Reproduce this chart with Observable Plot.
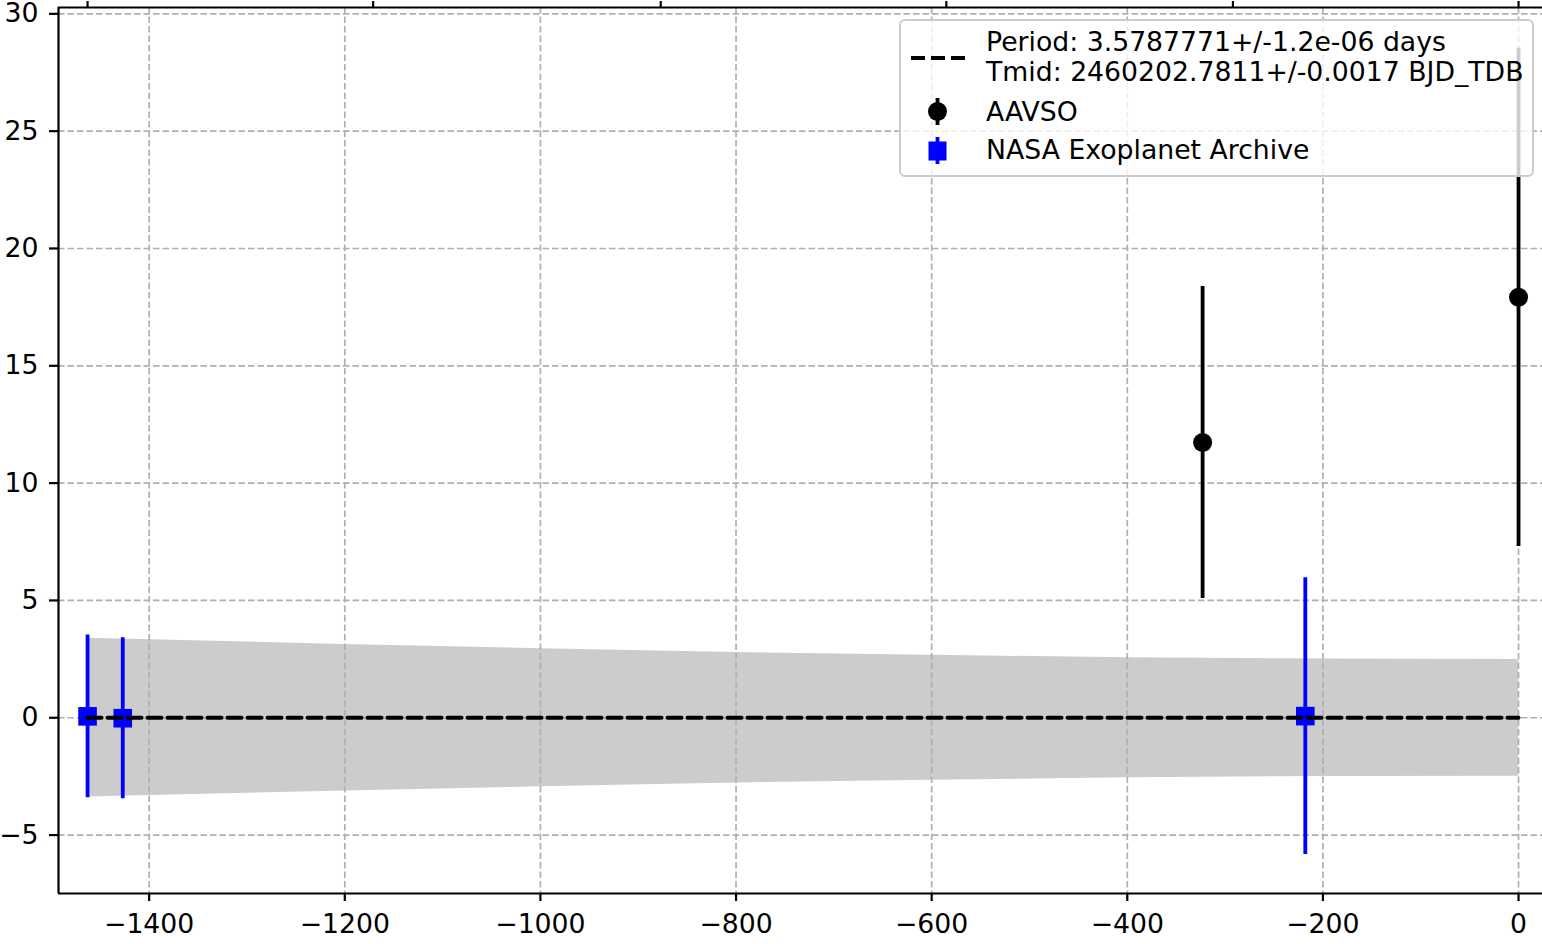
<!DOCTYPE html>
<html>
<head>
<meta charset="utf-8">
<script src="https://cdn.jsdelivr.net/npm/d3@7"></script>
<script src="https://cdn.jsdelivr.net/npm/@observablehq/plot@0.6"></script>
<style>
  html, body { margin: 0; padding: 0; background: white; overflow: hidden; }
  #wrap { position: relative; width: 1542px; height: 944px; }
  #legend { position: absolute; left: 0; top: 0; pointer-events: none; }
</style>
</head>
<body>
<div id="wrap"></div>
<script>
// ---- data ----
const nasaEpoch = [-1463, -1427, -218];
const nasaOC    = [0.06, -0.02, 0.07];
const nasaErr   = [3.47, 3.43, 5.90];

const aavsoEpoch = [-323, 0];
const aavsoOC    = [11.73, 17.92];
const aavsoErr   = [6.65, 10.62];

const bandEpoch = [-1463, -1200, -1000, -800, -600, -400, -200, 0];
const bandUpper = [3.39, 3.12, 2.94, 2.78, 2.66, 2.56, 2.50, 2.48];
const bandLower = [-3.38, -3.12, -2.94, -2.78, -2.66, -2.56, -2.50, -2.49];

const fitEpoch = [-1463, 0];
const fitOC    = [0, 0];

const xTicks = [-1400, -1200, -1000, -800, -600, -400, -200, 0];
const yTicks = [-5, 0, 5, 10, 15, 20, 25, 30];
const topTicks = [-1463, -1171, -877, -585, -292, 0];

const legendLines = [
  "Period: 3.5787771+/-1.2e-06 days",
  "Tmid: 2460202.7811+/-0.0017 BJD_TDB",
  "AAVSO",
  "NASA Exoplanet Archive"
];

// ---- tables ----
const nasa = nasaEpoch.map((e, i) => ({epoch: e, oc: nasaOC[i], err: nasaErr[i]}));
const aavso = aavsoEpoch.map((e, i) => ({epoch: e, oc: aavsoOC[i], err: aavsoErr[i]}));
const band = bandEpoch.map((e, i) => ({epoch: e, lo: bandLower[i], hi: bandUpper[i]}));
const fit = fitEpoch.map((e, i) => ({epoch: e, oc: fitOC[i]}));

const fmt = d => d < 0 ? "\u2212" + Math.abs(d) : String(d);
const xDomain = [-1492.7, 24.5];
const yDomain = [-7.49, 30.27];
const FS = 26.7;

const chart = Plot.plot({
  width: 1542,
  height: 944,
  marginLeft: 58,
  marginRight: 0,
  marginTop: 7,
  marginBottom: 51,
  x: {domain: xDomain, label: null},
  y: {domain: yDomain, label: null},
  style: {fontFamily: "DejaVu Sans", fontSize: FS + "px", color: "black", background: "white", overflow: "visible"},
  marks: [
    Plot.areaY(band, {x: "epoch", y1: "lo", y2: "hi", fill: "#cccccc"}),
    Plot.gridX(xTicks, {stroke: "#b0b0b0", strokeOpacity: 1, strokeWidth: 1.7, strokeDasharray: "6.5,3"}),
    Plot.gridY(yTicks, {stroke: "#b0b0b0", strokeOpacity: 1, strokeWidth: 1.7, strokeDasharray: "6.5,3"}),
    Plot.ruleX(nasa, {x: "epoch", y1: d => d.oc - d.err, y2: d => d.oc + d.err, stroke: "blue", strokeWidth: 3.8}),
    Plot.dot(nasa, {x: "epoch", y: "oc", symbol: "square", r: 10.5, fill: "blue", stroke: "none"}),
    Plot.ruleX(aavso, {x: "epoch", y1: d => d.oc - d.err, y2: d => d.oc + d.err, stroke: "black", strokeWidth: 3.8}),
    Plot.dot(aavso, {x: "epoch", y: "oc", r: 9.5, fill: "black", stroke: "none"}),
    Plot.line(fit, {x: "epoch", y: "oc", stroke: "black", strokeWidth: 4, strokeDasharray: "14,6"}),
    Plot.ruleX([xDomain[0]], {stroke: "black", strokeWidth: 2.2}),
    Plot.ruleY([yDomain[0]], {stroke: "black", strokeWidth: 2.2}),
    Plot.ruleY([yDomain[1]], {stroke: "black", strokeWidth: 2.2}),
    Plot.axisX({ticks: xTicks, tickFormat: fmt, tickSize: 8, tickPadding: 13, stroke: "black", strokeWidth: 2.2, fill: "black", fontSize: FS}),
    Plot.axisY({ticks: yTicks, tickFormat: fmt, tickSize: 9, tickPadding: 11, stroke: "black", strokeWidth: 2.2, fill: "black", fontSize: FS}),
    Plot.axisX({anchor: "top", ticks: topTicks, tickSize: 7, tickFormat: () => "", stroke: "black", strokeWidth: 2.2})
  ]
});
document.getElementById("wrap").appendChild(chart);

// ---- legend overlay ----
const lg = d3.select("#wrap").append("svg")
  .attr("id", "legend")
  .attr("width", 1542).attr("height", 944)
  .style("font-family", "DejaVu Sans").style("font-size", FS + "px");

lg.append("rect").attr("x", 900).attr("y", 20).attr("width", 633).attr("height", 156)
  .attr("rx", 5).attr("fill", "white").attr("fill-opacity", 0.8)
  .attr("stroke", "#cccccc").attr("stroke-width", 2);
lg.append("line").attr("x1", 911).attr("x2", 965).attr("y1", 58).attr("y2", 58)
  .attr("stroke", "black").attr("stroke-width", 4).attr("stroke-dasharray", "14,6");
lg.append("line").attr("x1", 937.5).attr("x2", 937.5).attr("y1", 98).attr("y2", 125)
  .attr("stroke", "black").attr("stroke-width", 3.8);
lg.append("circle").attr("cx", 937.5).attr("cy", 111.5).attr("r", 9.5).attr("fill", "black");
lg.append("line").attr("x1", 937.5).attr("x2", 937.5).attr("y1", 137).attr("y2", 164)
  .attr("stroke", "blue").attr("stroke-width", 3.8);
lg.append("rect").attr("x", 928.5).attr("y", 141.5).attr("width", 18).attr("height", 19).attr("fill", "blue");
const baselines = [51, 80.5, 120.5, 158.5];
legendLines.forEach((t, i) => {
  lg.append("text").attr("x", 986).attr("y", baselines[i]).attr("fill", "black").text(t);
});
</script>
</body>
</html>
